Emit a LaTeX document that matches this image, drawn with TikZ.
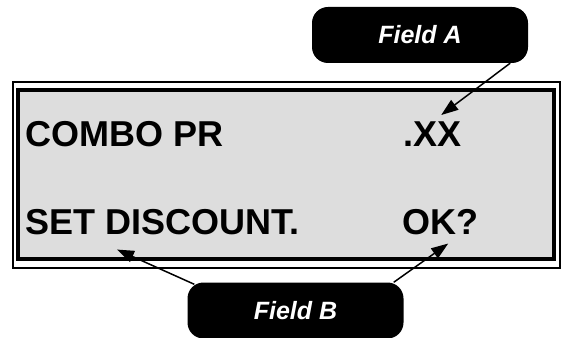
\documentclass[tikz,border=0pt]{standalone}
\usepackage{fontspec}
\setmainfont{Liberation Sans}
\usetikzlibrary{arrows.meta}
\definecolor{lcdgray}{RGB}{221,221,221}

\begin{document}
\begin{tikzpicture}[x=1pt,y=1pt,
    lcdtext/.style ={anchor=base west, inner sep=0pt, font=\fontsize{36}{40}\selectfont\bfseries},
    fieldbox/.style ={fill=black, rounded corners=16pt, minimum width=216pt, minimum height=56pt,
       text=white, font=\fontsize{25}{28}\selectfont\bfseries\itshape},
    pointer/.style ={line width=1.5pt, -{Triangle[length=17pt,width=12pt]}}]
   \useasboundingbox (0,0) rectangle (561,337);
   % display frame
   \draw[line width=2pt] (13,69) rectangle (560,255);
   \draw[line width=4pt, fill=lcdgray] (18,78) rectangle (554,246.5);
   \node[lcdtext] (combo) at (25,190)  {COMBO PR};
   \node[lcdtext] (price) at (403,190)  {.XX};
   \node[lcdtext] (discount) at (25,102)  {SET DISCOUNT.};
   \node[lcdtext] (ok) at (402,102)  {OK?};
   \node[fieldbox] (fieldA) at (420,302)  {Field A};
   \node[fieldbox] (fieldB) at (295.5,26.5)  {Field B};
   \draw[pointer] ([xshift=-18pt]fieldA.south east) to ([shift={(9pt,7pt)}]price.north);
   \draw[pointer] ([shift={(7pt,-2pt)}]fieldB.north west) to ([shift={(92pt,-14pt)}]discount.south west);
   \draw[pointer] ([xshift=-10pt]fieldB.north east) to ([shift={(8pt,-8pt)}]ok.south);
 \end{tikzpicture}
\end{document}
